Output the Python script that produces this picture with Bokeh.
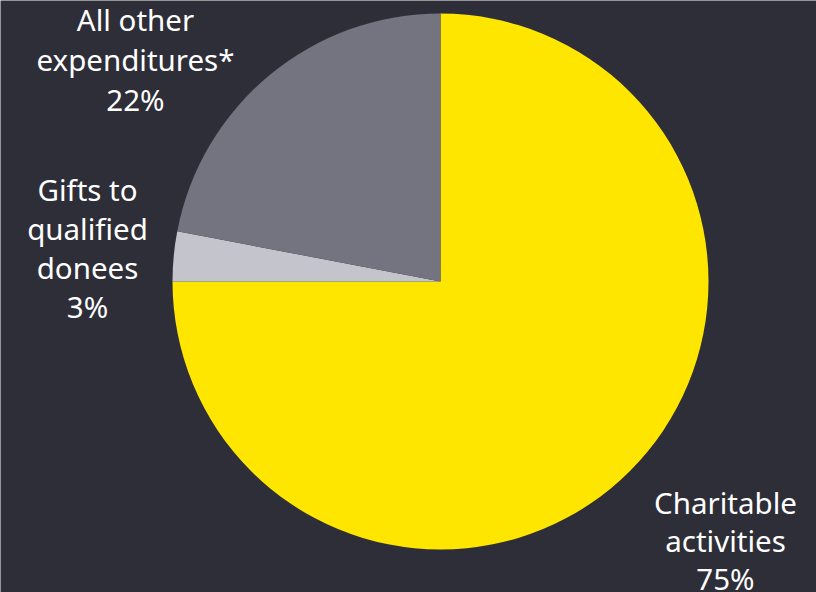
import math
from bokeh.plotting import figure
from bokeh.models import Range1d, ColumnDataSource
from bokeh.core.properties import value
from bokeh.embed import file_html
from bokeh.resources import INLINE

categories = ["Charitable activities", "Gifts to qualified donees", "All other expenditures*"]
shares = [75, 3, 22]
colors = ["#FFE600", "#C4C4CD", "#747480"]
label_lines = [["Charitable", "activities", "75%"],
               ["Gifts to", "qualified", "donees", "3%"],
               ["All other", "expenditures*", "22%"]]

W, H = 816, 592
BG = "#2E2E38"
cx, cy, r = 440, H - 281, 268

# wedges: clockwise from 12 o'clock
starts, ends = [], []
cum = 0.0
for s in shares:
    a0 = math.pi / 2 - 2 * math.pi * cum / 100
    cum += s
    a1 = math.pi / 2 - 2 * math.pi * cum / 100
    starts.append(a0)
    ends.append(a1)

src = ColumnDataSource(dict(cat=categories, share=shares, color=colors,
                            start=starts, end=ends,
                            x=[cx] * 3, y=[cy] * 3))

p = figure(width=W, height=H, x_range=Range1d(0, W), y_range=Range1d(0, H),
           output_backend="svg", toolbar_location=None, min_border=0,
           background_fill_color=BG, border_fill_color=BG, outline_line_color=None)
p.axis.visible = False
p.grid.visible = False

p.wedge(x="x", y="y", radius=r, start_angle="start", end_angle="end",
        direction="clock", fill_color="color", line_color=None, source=src)

# label layout (centre x, top-line y in screen pixels, line step)
label_pos = [(725, 502, 38), (87, 189, 39), (135, 19, 40)]
tx, ty, tt = [], [], []
for lines, (lx, ly, step) in zip(label_lines, label_pos):
    for i, t in enumerate(lines):
        tx.append(lx)
        ty.append(H - (ly + i * step))
        tt.append(t)

p.text(x=tx, y=ty, text=tt, text_color="white", text_align="center",
       text_baseline="middle", text_font=value("Noto Sans"),
       text_font_size="29.5px")

open("out.html", "w").write(file_html(p, INLINE))
